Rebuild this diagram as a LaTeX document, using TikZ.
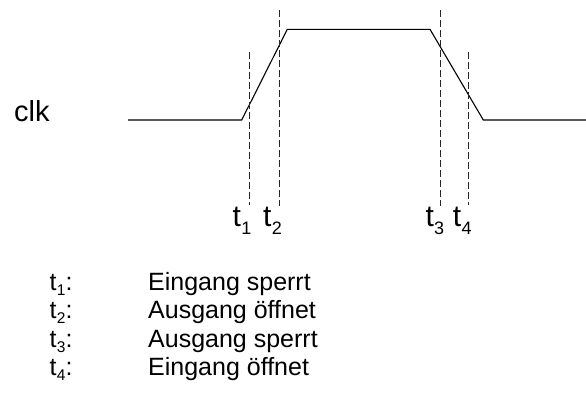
\documentclass[tikz,border=0pt]{standalone}
\usepackage{fontspec}
\setmainfont{Liberation Sans}
\newcommand{\tbig}[1]{t\kern0.3pt\raisebox{-7.5pt}{\fontsize{18}{18}\selectfont #1}}
\newcommand{\tsmall}[1]{t\kern0.3pt\raisebox{-5pt}{\fontsize{15.5}{15.5}\selectfont #1}:}
\begin{document}
\begin{tikzpicture}[x=1pt,y=-1pt,
  signal/.style={line width=1.1pt,line join=miter},
  marker/.style={line width=0.8pt,black!85,dash pattern=on 7pt off 3pt},
  tlabel/.style={font=\fontsize{30}{32}\selectfont,anchor=base west,inner sep=0pt},
  legend/.style={font=\fontsize{25}{28}\selectfont,anchor=base west,inner sep=0pt}]
\useasboundingbox (0,0) rectangle (586,392);
% signal
\coordinate (s0) at (128,120);
\coordinate (s1) at (241.7,120);
\coordinate (s2) at (287.3,29.3);
\coordinate (s3) at (430,29.3);
\coordinate (s4) at (483.3,120);
\coordinate (s5) at (586,120);
\draw[signal] (s0) -- (s1) -- (s2) -- (s3) -- (s4) -- (s5);
% markers
\coordinate (m1a) at (249,52); \coordinate (m1b) at (249,205);
\coordinate (m2a) at (279.3,10); \coordinate (m2b) at (279.3,206);
\coordinate (m3a) at (440,10); \coordinate (m3b) at (440,206);
\coordinate (m4a) at (468.7,52); \coordinate (m4b) at (468.7,205);
\draw[marker] (m1a) -- (m1b);
\draw[marker] (m2a) -- (m2b);
\draw[marker] (m3a) -- (m3b);
\draw[marker] (m4a) -- (m4b);
% labels
\node[font=\fontsize{29}{32}\selectfont,anchor=base west,inner sep=0pt] (clk) at (14,121.7) {clk};
\node[tlabel] (l1) at (232.5,226.7) {\tbig{1}};
\node[tlabel] (l2) at (263,226.7) {\tbig{2}};
\node[tlabel] (l3) at (425.3,226.7) {\tbig{3}};
\node[tlabel] (l4) at (452.7,226.7) {\tbig{4}};
% legend
\node[legend] (k1) at (49.5,290.5) {\tsmall{1}};
\node[legend] (k2) at (49.5,318.8) {\tsmall{2}};
\node[legend] (k3) at (49.5,347.2) {\tsmall{3}};
\node[legend] (k4) at (49.5,375.5) {\tsmall{4}};
\node[legend] (d1) at (148,290.5) {Eingang sperrt};
\node[legend] (d2) at (148,318.8) {Ausgang öffnet};
\node[legend] (d3) at (148,347.2) {Ausgang sperrt};
\node[legend] (d4) at (148,375.5) {Eingang öffnet};
\end{tikzpicture}
\end{document}
